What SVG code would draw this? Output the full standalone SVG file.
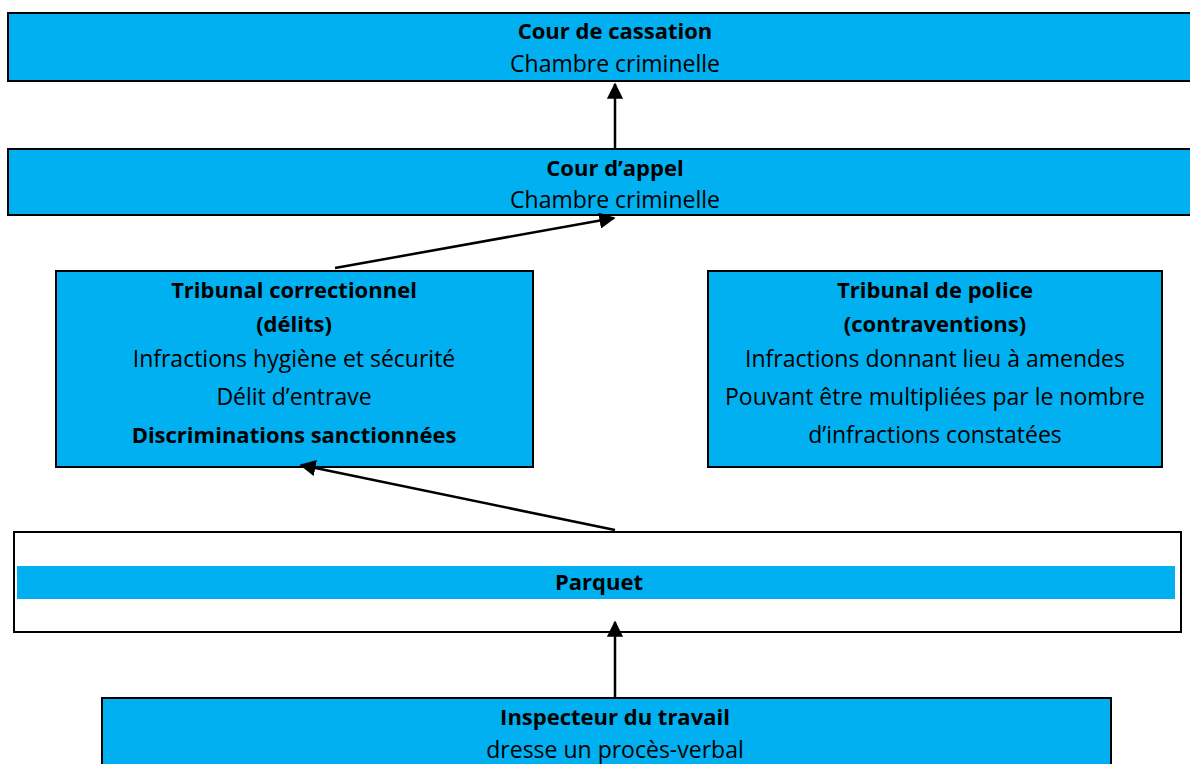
<svg xmlns="http://www.w3.org/2000/svg" width="1190" height="764" viewBox="0 0 1190 764">
<defs>
<style>
.box{fill:#00B0F0;stroke:#000;stroke-width:2}
.wbox{fill:#fff;stroke:#000;stroke-width:2}
.band{fill:#00B0F0;stroke:none}
text{font-family:"Open Sans","Noto Sans",sans-serif;font-size:23px;fill:#000;text-anchor:middle}
.b{font-weight:bold;font-size:22px}
.con{stroke:#000;stroke-width:2.5;fill:none;marker-end:url(#ah)}
</style>
<marker id="ah" viewBox="0 0 10 10" refX="9" refY="5" markerWidth="6.5" markerHeight="6.5" orient="auto" markerUnits="strokeWidth">
<path d="M0,0 L10,5 L0,10 z" fill="#000"/>
</marker>
</defs>
<rect width="1190" height="764" fill="#fff"/>
<g id="cassation">
<rect class="box" x="8" y="13" width="1190" height="68"/>
<text class="b" x="615" y="39">Cour de cassation</text>
<text x="615" y="72">Chambre criminelle</text>
</g>
<g id="appel">
<rect class="box" x="8" y="149" width="1190" height="66"/>
<text class="b" x="615" y="176">Cour d’appel</text>
<text x="615" y="208">Chambre criminelle</text>
</g>
<g id="correctionnel">
<rect class="box" x="56" y="271" width="477" height="196"/>
<text class="b" x="294" y="298">Tribunal correctionnel</text>
<text class="b" x="294" y="332">(délits)</text>
<text x="294" y="367">Infractions hygiène et sécurité</text>
<text x="294" y="405">Délit d’entrave</text>
<text class="b" x="294" y="443">Discriminations sanctionnées</text>
</g>
<g id="police">
<rect class="box" x="708" y="271" width="454" height="196"/>
<text class="b" x="935" y="298">Tribunal de police</text>
<text class="b" x="935" y="332">(contraventions)</text>
<text x="935" y="367">Infractions donnant lieu à amendes</text>
<text x="935" y="405">Pouvant être multipliées par le nombre</text>
<text x="935" y="443">d’infractions constatées</text>
</g>
<g id="parquet">
<rect class="wbox" x="14" y="532" width="1167" height="100"/>
<rect class="band" x="17" y="566" width="1158" height="33"/>
<text class="b" x="599" y="590">Parquet</text>
</g>
<g id="inspecteur">
<rect class="box" x="102" y="698" width="1009" height="80"/>
<text class="b" x="615" y="725">Inspecteur du travail</text>
<text x="615" y="758">dresse un procès-verbal</text>
</g>
<g id="connectors">
<line class="con" x1="615" y1="148" x2="615" y2="84"/>
<line class="con" x1="335" y1="268" x2="614" y2="218"/>
<line class="con" x1="615" y1="530" x2="301" y2="465"/>
<line class="con" x1="615" y1="697" x2="615" y2="622"/>
</g>
</svg>
